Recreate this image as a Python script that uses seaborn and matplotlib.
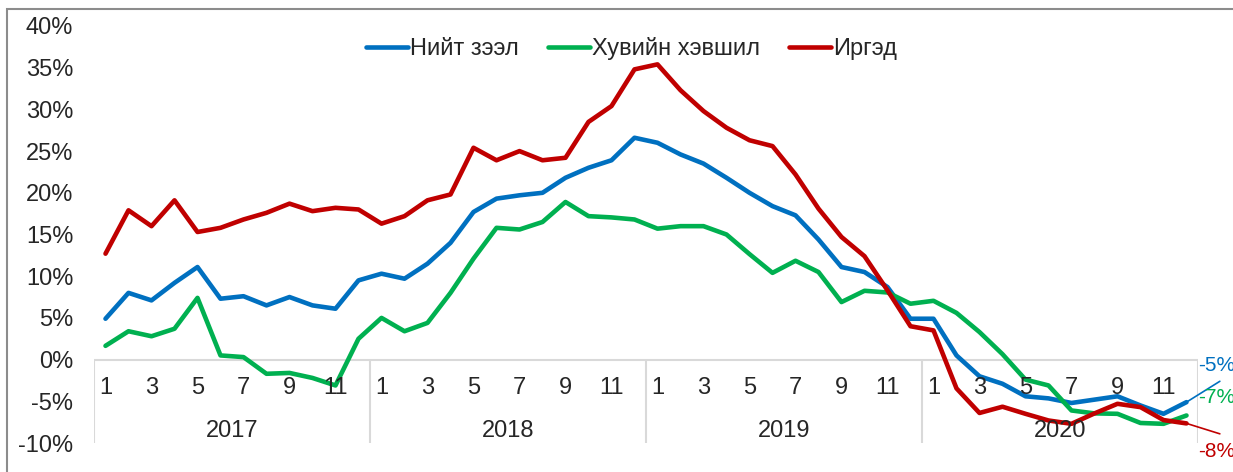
import numpy as np
import pandas as pd
import matplotlib
matplotlib.use("Agg")
import matplotlib.pyplot as plt
import matplotlib.patches as mpatches
import seaborn as sns

# ---------------- data ----------------
years = [2017, 2018, 2019, 2020]
months = list(range(1, 13))
series_names = ["Нийт зээл", "Хувийн хэвшил", "Иргэд"]
colors = ["#0070C0", "#00B050", "#C00000"]

total = [4.9, 8.0, 7.1, 9.2, 11.1, 7.3, 7.6, 6.5, 7.5, 6.5, 6.1, 9.5,
         10.3, 9.7, 11.5, 14.0, 17.7, 19.3, 19.7, 20.0, 21.8, 23.0, 23.9, 26.6,
         26.0, 24.6, 23.5, 21.8, 20.0, 18.4, 17.3, 14.4, 11.1, 10.5, 8.7, 4.9,
         4.9, 0.5, -2.0, -2.9, -4.4, -4.65, -5.2, -4.8, -4.4, -5.5, -6.5, -5.1]
private = [1.65, 3.4, 2.8, 3.7, 7.4, 0.5, 0.3, -1.7, -1.6, -2.2, -3.1, 2.5,
           5.0, 3.4, 4.4, 8.0, 12.1, 15.8, 15.6, 16.5, 18.9, 17.2, 17.05, 16.8,
           15.7, 16.0, 16.0, 15.0, 12.65, 10.4, 11.85, 10.5, 6.9, 8.25, 8.05, 6.7,
           7.05, 5.6, 3.3, 0.65, -2.4, -3.1, -6.1, -6.45, -6.5, -7.6, -7.7, -6.7]
household = [12.7, 17.9, 16.0, 19.1, 15.3, 15.8, 16.8, 17.6, 18.7, 17.8, 18.2, 18.0,
             16.3, 17.2, 19.1, 19.8, 25.4, 23.9, 25.0, 23.9, 24.2, 28.5, 30.4, 34.8,
             35.4, 32.3, 29.8, 27.8, 26.3, 25.6, 22.2, 18.1, 14.7, 12.4, 8.3, 4.0,
             3.5, -3.45, -6.4, -5.65, -6.5, -7.3, -7.7, -6.45, -5.3, -5.7, -7.25, -7.65]
yticks = [-10, -5, 0, 5, 10, 15, 20, 25, 30, 35, 40]

# ---------------- build frame ----------------
n = len(years) * len(months)
idx = np.arange(n)
month_of = [m for _ in years for m in months]
df = pd.concat([
    pd.DataFrame({"idx": idx, "series": name, "value": vals})
    for name, vals in zip(series_names, [total, private, household])
], ignore_index=True)

sns.set_style("white")
plt.rcParams["font.family"] = ["Liberation Sans", "DejaVu Sans"]

FS = 17
W, H = 1233, 472
fig = plt.figure(figsize=(W / 100, H / 100), dpi=100)
ax = fig.add_axes([94 / W, 1 - 443 / H, (1198 - 94) / W, (443 - 26) / H])

sns.lineplot(data=df, x="idx", y="value", hue="series", hue_order=series_names,
             palette=colors, linewidth=3.3, ax=ax, legend=True)

ax.set_xlim(-0.5, n - 0.5)
ax.set_ylim(-10, 40)
ax.set_yticks(yticks)
ax.set_yticklabels([f"{v}%" for v in yticks], fontsize=FS)
ax.tick_params(axis="y", length=0, pad=15)
ax.set_xticks([])
ax.set_xlabel("")
ax.set_ylabel("")
for s in ax.spines.values():
    s.set_visible(False)

# category axis at zero
axis_c = "#d9d9d9"
ax.hlines(0, -0.5, n - 0.5, color=axis_c, lw=1.5, zorder=1)
for k in range(len(years) + 1):
    ax.vlines(k * 12 - 0.5, -10, 0, color=axis_c, lw=1.5, zorder=1)
for i, m in enumerate(month_of):
    if m % 2 == 1:
        ax.text(i, -3.4, str(m), ha="center", va="center", fontsize=FS)
for k, yr in enumerate(years):
    ax.text(k * 12 + 5.5, -8.6, str(yr), ha="center", va="center", fontsize=FS)

# legend
leg = ax.legend(loc="upper center", bbox_to_anchor=(0.487, 1.025), ncol=3,
                frameon=False, fontsize=FS, handlelength=1.75, handletextpad=0.1,
                columnspacing=1.25)
for h in leg.get_lines():
    h.set_linewidth(3.3)

# end labels
last = n - 1
end_specs = [(total, colors[0], -0.7, (48.45, -2.6)),
             (private, colors[1], -4.6, None),
             (household, colors[2], -11.0, (48.45, -8.9))]
for vals, c, ytxt, leader in end_specs:
    if leader is not None:
        ax.plot([last, leader[0]], [vals[-1], leader[1]], color=c, lw=1.2, clip_on=False)
    ax.text(47.5, ytxt, f"{round(vals[-1]):d}%", color=c, fontsize=15,
            ha="left", va="center", clip_on=False)

# outer chart frame
fig.patches.append(mpatches.Rectangle((7 / W, -0.1), 1.2, (H - 9) / H + 0.1,
                                      transform=fig.transFigure, fill=False,
                                      edgecolor="#8c8c8c", lw=1.5))

fig.savefig("out.png", dpi=100)
